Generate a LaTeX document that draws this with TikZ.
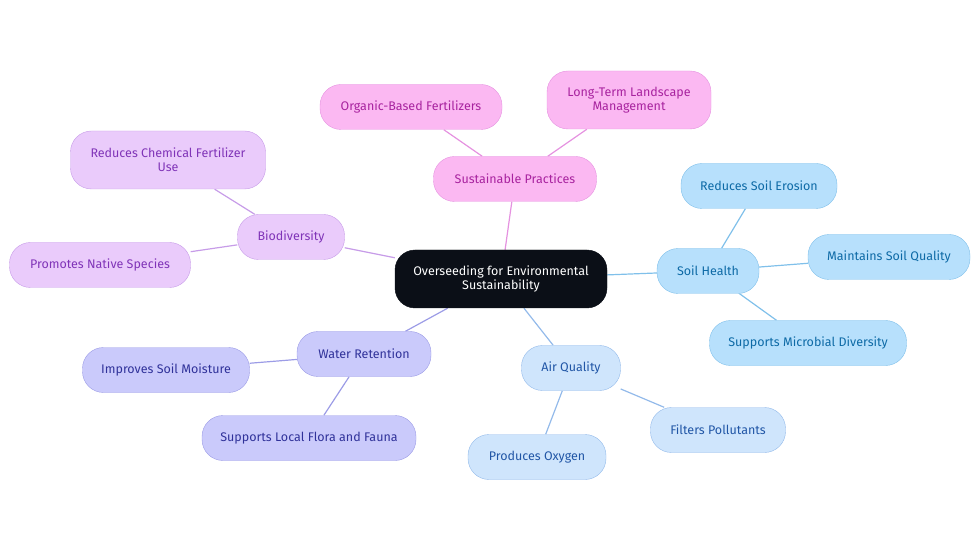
\documentclass[tikz,border=0pt]{standalone}
\usepackage{fontspec}
\setmainfont{Fira Sans}
\definecolor{corefill}{HTML}{0B0F17}
\definecolor{pinkfill}{HTML}{FBB8F2}
\definecolor{pinkline}{HTML}{E592E0}
\definecolor{pinktext}{HTML}{A8239F}
\definecolor{lilacfill}{HTML}{EACBFB}
\definecolor{lilacline}{HTML}{C79CE8}
\definecolor{lilactext}{HTML}{8034B8}
\definecolor{perifill}{HTML}{CACAFB}
\definecolor{periline}{HTML}{9C9CE6}
\definecolor{peritext}{HTML}{30329A}
\definecolor{airfill}{HTML}{CFE5FC}
\definecolor{airline}{HTML}{93BAEA}
\definecolor{airtext}{HTML}{2156A6}
\definecolor{soilfill}{HTML}{B7E0FC}
\definecolor{soilline}{HTML}{80C0EA}
\definecolor{soiltext}{HTML}{0D6AA6}
\usetikzlibrary{positioning,backgrounds}
\tikzset{
	core/.style={
		rectangle,
		rounded corners=20pt,
		fill=corefill,
		draw=corefill,
		text=white,
		minimum width=212pt,
		minimum height=58pt,
		align=center,
		font=\fontsize{12.5}{14}\selectfont
	},
	box/.style={
		rectangle,
		rounded corners=21pt,
		draw=#1line,
		fill=#1fill,
		text=#1text,
		minimum height=45pt,
		inner sep=0pt,
		align=center,
		font=\fontsize{12.5}{14}\selectfont
	},
	link/.style={
		draw=#1line,
		line width=1.2pt
	},
}

\begin{document}
\begin{tikzpicture}[x=1pt,y=-1pt]
	\useasboundingbox (0,0) rectangle (980,553);
	% hub
	\node [core] (hub) at (501,279) {Overseeding for Environmental\\Sustainability};
	% sustainable practices
	\node [box=pink, minimum width=163pt] (sust) at (515,179) {Sustainable Practices};
	\node [box=pink, minimum width=182pt] (organic) at (411,107) {Organic-Based Fertilizers};
	\node [box=pink, minimum width=164pt, minimum height=58pt] (longterm) at (629,100) {Long-Term Landscape\\Management};
	% biodiversity
	\node [box=lilac, minimum width=107pt] (bio) at (291,237) {Biodiversity};
	\node [box=lilac, minimum width=195pt, minimum height=58pt] (chem) at (168,160) {Reduces Chemical Fertilizer\\Use};
	\node [box=lilac, minimum width=181pt] (native) at (100,265) {Promotes Native Species};
	% water retention
	\node [box=peri, minimum width=134pt] (water) at (364,354) {Water Retention};
	\node [box=peri, minimum width=167pt] (moist) at (166,370) {Improves Soil Moisture};
	\node [box=peri, minimum width=214pt] (flora) at (309,438) {Supports Local Flora and Fauna};
	% air quality
	\node [box=air, minimum width=99pt] (air) at (571,368) {Air Quality};
	\node [box=air, minimum width=138pt] (oxygen) at (537,457) {Produces Oxygen};
	\node [box=air, minimum width=135pt] (filter) at (718,430) {Filters Pollutants};
	% soil health
	\node [box=soil, minimum width=102pt] (soil) at (708,271) {Soil Health};
	\node [box=soil, minimum width=156pt] (erosion) at (759,186) {Reduces Soil Erosion};
	\node [box=soil, minimum width=162pt] (quality) at (889,257) {Maintains Soil Quality};
	\node [box=soil, minimum width=197pt] (microbe) at (808,343) {Supports Microbial Diversity};

	\begin{scope}[on background layer]
		\path
		(hub) edge[link=pink] (sust)
		(sust) edge[link=pink] (organic)
		(sust) edge[link=pink] (longterm)
		(hub) edge[link=lilac] (bio)
		(bio) edge[link=lilac] (chem)
		(bio) edge[link=lilac] (native)
		(hub) edge[link=peri] (water)
		(water) edge[link=peri] (moist)
		(water) edge[link=peri] (flora)
		(hub) edge[link=air] (air)
		(air) edge[link=air] (oxygen)
		(air) edge[link=air] (filter)
		(hub) edge[link=soil] (soil)
		(soil) edge[link=soil] (erosion)
		(soil) edge[link=soil] (quality)
		(soil) edge[link=soil] (microbe)
		;
	\end{scope}
\end{tikzpicture}
\end{document}
